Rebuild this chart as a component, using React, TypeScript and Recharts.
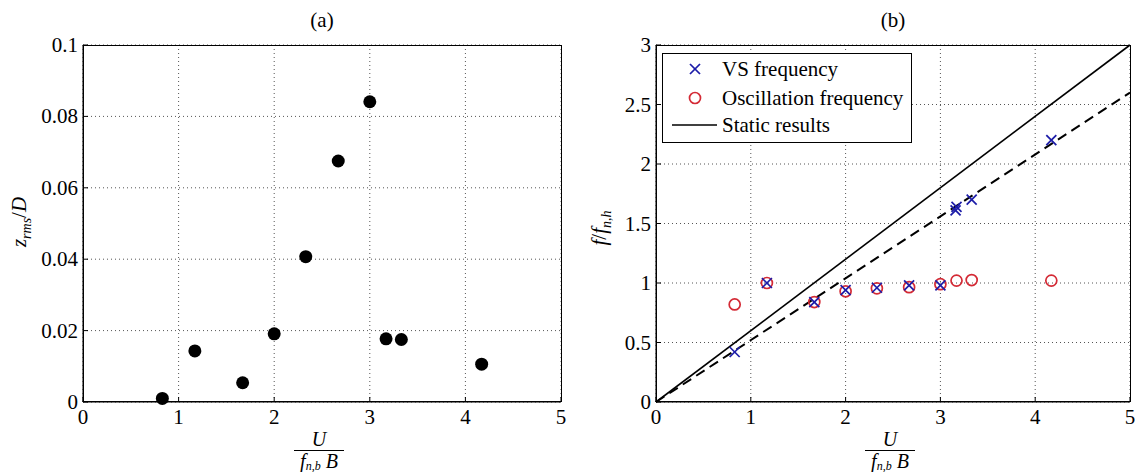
import React from "react";
import { ScatterChart, Scatter, XAxis, YAxis, CartesianGrid } from "recharts";

// reduced velocity U / (f_n,b B)
const speedA = [0.83, 1.17, 1.67, 2.0, 2.33, 2.67, 3.0, 3.17, 3.33, 4.17];
const amplitude = [0.001, 0.0143, 0.0054, 0.0191, 0.0407, 0.0675, 0.0841, 0.0177, 0.0175, 0.0106];

const speedVS = [0.83, 1.17, 1.67, 2.0, 2.33, 2.67, 3.0, 3.16, 3.17, 3.33, 4.17];
const vsFreq = [0.42, 1.0, 0.84, 0.94, 0.96, 0.98, 0.98, 1.61, 1.64, 1.7, 2.2];

const speedOsc = [0.83, 1.17, 1.67, 2.0, 2.33, 2.67, 3.0, 3.17, 3.33, 4.17];
const oscFreq = [0.82, 1.0, 0.84, 0.93, 0.955, 0.965, 0.99, 1.02, 1.025, 1.02];

const staticX = [0, 5];
const staticY = [0, 3];
const fitX = [0, 5];
const fitY = [0, 2.6];

const xTicks = [0, 1, 2, 3, 4, 5];
const yTicksA = [0, 0.02, 0.04, 0.06, 0.08, 0.1];
const yTicksB = [0, 0.5, 1, 1.5, 2, 2.5, 3];

const seriesNames = ["VS frequency", "Oscillation frequency", "Static results"];

const FONT = "Liberation Serif, Tinos, DejaVu Serif, Noto Serif, Times New Roman, serif";
const FS = 21;
const BLUE = "#1c1ca8";
const RED = "#d42a35";

const toPoints = (xs: number[], ys: number[]) => xs.map((x, i) => ({ x, y: ys[i] }));

const XTick = (props: any) => {
  const { x, y, payload } = props;
  return (
    <g>
      <line x1={x} x2={x} y1={y} y2={y - 5} stroke="#000" />
      <text x={x} y={y + 22} textAnchor="middle" fontFamily={FONT} fontSize={FS} fill="#000">
        {payload.value}
      </text>
    </g>
  );
};

const YTick = (props: any) => {
  const { x, y, payload } = props;
  return (
    <g>
      <line x1={x} x2={x + 5} y1={y} y2={y} stroke="#000" />
      <text x={x - 5} y={y + 7} textAnchor="end" fontFamily={FONT} fontSize={FS} fill="#000">
        {payload.value}
      </text>
    </g>
  );
};

const FracLabel = (props: any) => {
  const vb = props.viewBox || {};
  const cx = vb.x + vb.width / 2 - 3;
  const top = vb.y;
  return (
    <g fontFamily={FONT} fill="#000">
      <text x={cx} y={top + 44} textAnchor="middle" fontSize={20} fontStyle="italic">
        U
      </text>
      <line x1={cx - 25} x2={cx + 25} y1={top + 48.5} y2={top + 48.5} stroke="#000" strokeWidth={1.2} />
      <text x={cx} y={top + 65.5} textAnchor="middle" fontSize={20} fontStyle="italic">
        <tspan>f</tspan>
        <tspan fontSize={12} dy={2}>n,b</tspan>
        <tspan dy={-2}> B</tspan>
      </text>
    </g>
  );
};

const DotShape = (props: any) => <circle cx={props.cx} cy={props.cy} r={6.5} fill="#000" />;

const CrossShape = (props: any) => {
  const { cx, cy } = props;
  const s = 5;
  return (
    <g stroke={BLUE} strokeWidth={1.7}>
      <line x1={cx - s} y1={cy - s} x2={cx + s} y2={cy + s} />
      <line x1={cx - s} y1={cy + s} x2={cx + s} y2={cy - s} />
    </g>
  );
};

const RingShape = (props: any) => (
  <circle cx={props.cx} cy={props.cy} r={5.5} fill="none" stroke={RED} strokeWidth={1.7} />
);

const NoShape = () => <g />;

const LegendBox = () => (
  <svg width={250} height={90} style={{ position: "absolute", left: 662, top: 53 }}>
    <rect x={0.5} y={0.5} width={249} height={89} fill="#fff" stroke="#000" />
    <g stroke={BLUE} strokeWidth={1.7}>
      <line x1={28} y1={11} x2={38} y2={21} />
      <line x1={28} y1={21} x2={38} y2={11} />
    </g>
    <circle cx={33} cy={45} r={5.5} fill="none" stroke={RED} strokeWidth={1.7} />
    <line x1={10} x2={55} y1={72} y2={72} stroke="#000" strokeWidth={1.5} />
    <g fontFamily={FONT} fontSize={FS} fill="#000">
      <text x={60} y={23}>{seriesNames[0]}</text>
      <text x={60} y={52}>{seriesNames[1]}</text>
      <text x={60} y={79}>{seriesNames[2]}</text>
    </g>
  </svg>
);

const Title = ({ left, text }: { left: number; text: string }) => (
  <div
    style={{
      position: "absolute",
      left: left - 40,
      top: 7,
      width: 80,
      textAlign: "center",
      fontFamily: FONT,
      fontSize: FS,
      lineHeight: "26px",
    }}
  >
    {text}
  </div>
);

const Border = ({ left, width }: { left: number; width: number }) => (
  <div
    style={{
      position: "absolute",
      left,
      top: 45,
      width,
      height: 357,
      boxSizing: "border-box",
      border: "1px solid #000",
      pointerEvents: "none",
    }}
  />
);

export default function App() {
  return (
    <div style={{ position: "absolute", left: 0, top: 0, width: 1135, height: 472, background: "#fff" }}>
      <Title left={322} text="(a)" />
      <Title left={893} text="(b)" />

      <div style={{ position: "absolute", left: 0, top: 0 }}>
        <ScatterChart width={570} height={472} margin={{ top: 45, right: 9, left: 0, bottom: 0 }}>
          <CartesianGrid stroke="#555" strokeDasharray="1 3" />
          <XAxis
            type="number"
            dataKey="x"
            domain={[0, 5]}
            ticks={xTicks}
            interval={0}
            height={70}
            tickSize={0}
            tickMargin={0}
            tickLine={false}
            tick={<XTick />}
            axisLine={{ stroke: "#000" }}
            label={<FracLabel />}
          />
          <YAxis
            type="number"
            dataKey="y"
            domain={[0, 0.1]}
            ticks={yTicksA}
            interval={0}
            width={83}
            tickSize={0}
            tickMargin={0}
            tickLine={false}
            tick={<YTick />}
            axisLine={{ stroke: "#000" }}
          />
          <Scatter data={toPoints(speedA, amplitude)} shape={<DotShape />} isAnimationActive={false} />
        </ScatterChart>
        <svg style={{ position: "absolute", left: 0, top: 0 }} width={60} height={472}>
          <text
            x={26}
            y={222}
            transform="rotate(-90 26 222)"
            textAnchor="middle"
            fontFamily={FONT}
            fontSize={FS}
            fill="#000"
          >
            <tspan fontStyle="italic">z</tspan>
            <tspan fontStyle="italic" fontSize={14} dy={5}>rms</tspan>
            <tspan dy={-5}>/</tspan>
            <tspan fontStyle="italic">D</tspan>
          </text>
        </svg>
      </div>
      <Border left={83} width={479} />

      <div style={{ position: "absolute", left: 570, top: 0 }}>
        <ScatterChart width={565} height={472} margin={{ top: 45, right: 5, left: 0, bottom: 0 }}>
          <CartesianGrid stroke="#555" strokeDasharray="1 3" />
          <XAxis
            type="number"
            dataKey="x"
            domain={[0, 5]}
            ticks={xTicks}
            interval={0}
            height={70}
            tickSize={0}
            tickMargin={0}
            tickLine={false}
            tick={<XTick />}
            axisLine={{ stroke: "#000" }}
            label={<FracLabel />}
          />
          <YAxis
            type="number"
            dataKey="y"
            domain={[0, 3]}
            ticks={yTicksB}
            interval={0}
            width={86}
            tickSize={0}
            tickMargin={0}
            tickLine={false}
            tick={<YTick />}
            axisLine={{ stroke: "#000" }}
          />
          <Scatter
            data={toPoints(staticX, staticY)}
            line={{ stroke: "#000", strokeWidth: 1.6 }}
            shape={<NoShape />}
            isAnimationActive={false}
          />
          <Scatter
            data={toPoints(fitX, fitY)}
            line={{ stroke: "#000", strokeWidth: 2, strokeDasharray: "10 6" }}
            shape={<NoShape />}
            isAnimationActive={false}
          />
          <Scatter data={toPoints(speedOsc, oscFreq)} shape={<RingShape />} isAnimationActive={false} />
          <Scatter data={toPoints(speedVS, vsFreq)} shape={<CrossShape />} isAnimationActive={false} />
        </ScatterChart>
        <svg style={{ position: "absolute", left: 0, top: 0 }} width={60} height={472}>
          <text
            x={36}
            y={228}
            transform="rotate(-90 36 228)"
            textAnchor="middle"
            fontFamily={FONT}
            fontSize={FS}
            fill="#000"
          >
            <tspan fontStyle="italic">f</tspan>
            <tspan>/</tspan>
            <tspan fontStyle="italic">f</tspan>
            <tspan fontStyle="italic" fontSize={14} dy={5}>n,h</tspan>
          </text>
        </svg>
      </div>
      <Border left={656} width={475} />
      <LegendBox />
    </div>
  );
}
